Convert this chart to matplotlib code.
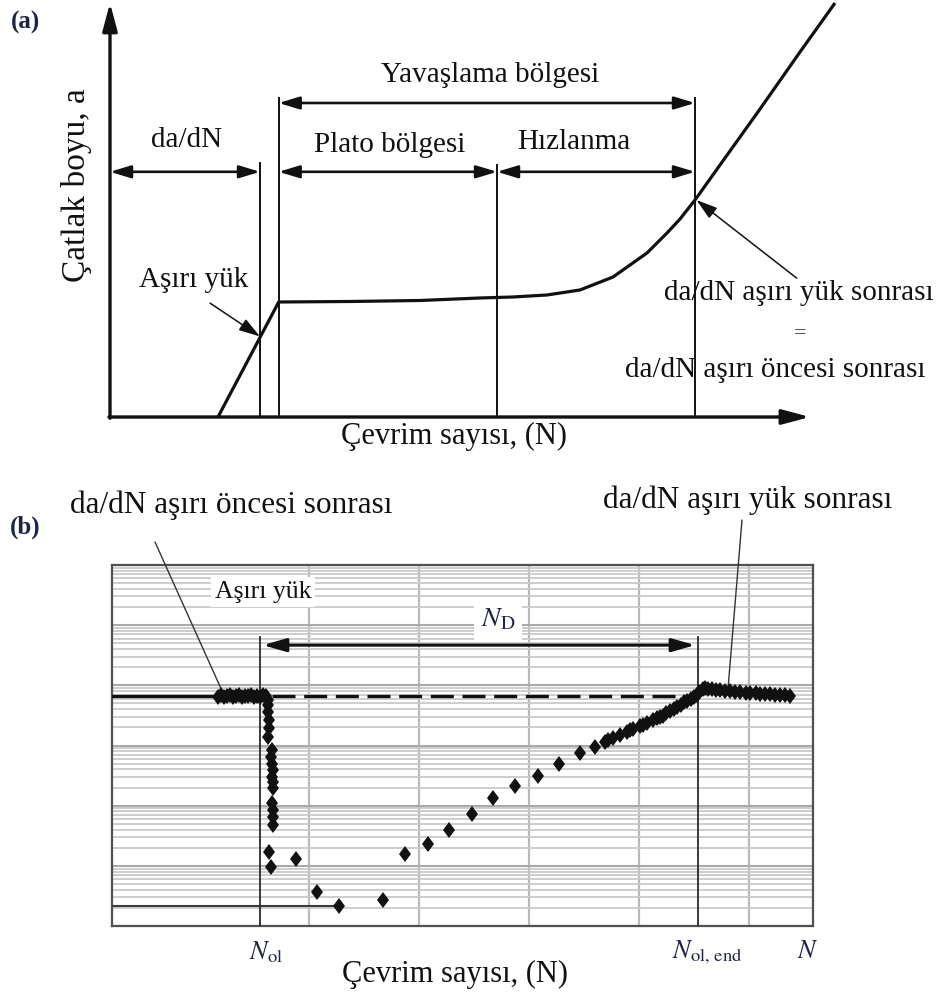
import matplotlib
matplotlib.use("Agg")
import matplotlib.pyplot as plt
from matplotlib.markers import MarkerStyle
from matplotlib.transforms import Affine2D, blended_transform_factory
from matplotlib.ticker import LogLocator, NullFormatter
import numpy as np

plt.rcParams["font.family"] = ["Liberation Serif", "DejaVu Serif"]
plt.rcParams["mathtext.fontset"] = "stix"

# ---------------- (a) schematic crack length vs cycles (normalised 0-100) ----------------
curve_N = [15.43, 24.1, 34.29, 44.29, 52.86, 57.57, 62.43, 67.14, 71.86, 76.71,
           79.57, 81.43, 83.57, 87.14, 92.86, 98.57, 103.57]
curve_a = [0.0, 27.58, 27.70, 27.94, 28.54, 28.78, 29.26, 30.46, 33.57, 39.33,
           44.12, 47.48, 52.04, 60.43, 73.86, 87.53, 99.28]
N_overload = 21.43
a_overload = 19.31
N_plateau_start = 24.1
N_plateau_end = 55.29
N_recovery = 83.57
a_recovery = 52.04
boundary_N = [N_overload, N_plateau_start, N_plateau_end, N_recovery]
boundary_top = [60.9, 76.5, 60.4, 76.5]
row_low, row_high = 58.8, 75.3

# ---------------- (b) da/dN vs cycles (kcycles, m/cycle) ----------------
N_ol = 15.55
N_ol_end = 55.36
dadn_before = 6.6e-7
dadn_min = 2.15e-10

pre_N = [11.73, 12.00, 12.27, 12.55, 12.82, 13.09, 13.36, 13.64, 13.91, 14.18,
         14.45, 14.73, 15.00, 15.27, 15.55, 15.82, 16.09]
pre_y = [6.5e-7, 6.8e-7, 6.4e-7, 6.7e-7, 6.9e-7, 6.5e-7, 6.6e-7, 6.8e-7, 6.4e-7,
         6.7e-7, 6.6e-7, 6.9e-7, 6.5e-7, 6.7e-7, 6.4e-7, 6.8e-7, 6.6e-7]

drop_N = [16.3, 16.3, 16.3, 16.4, 16.4, 16.3, 16.6, 16.5, 16.6, 16.7, 16.6, 16.7,
          16.7, 16.6, 16.7, 16.7, 16.7, 16.4, 16.5, 18.8, 20.7, 22.7, 26.7]
drop_y = [5.7e-7, 4.7e-7, 3.6e-7, 2.65e-7, 1.95e-7, 1.38e-7, 8.4e-8, 6.4e-8, 4.9e-8,
          3.9e-8, 3.0e-8, 2.5e-8, 1.96e-8, 1.11e-8, 8.5e-9, 6.5e-9, 4.8e-9, 1.7e-9,
          9.6e-10, 1.3e-9, 3.7e-10, 2.15e-10, 2.7e-10]

rec_N = [28.7, 30.8, 32.7, 34.8, 36.7, 38.7, 40.8, 42.7, 44.6, 46.0, 46.9, 47.2,
         47.6, 48.3, 48.9, 49.2, 49.5, 50.1, 50.4, 50.7, 51.3, 51.6, 51.9, 52.2,
         52.5, 52.8, 53.2, 53.5, 53.8, 54.1, 54.4, 54.7, 55.0, 55.3]
rec_y = [1.57e-9, 2.31e-9, 3.94e-9, 7.26e-9, 1.34e-8, 2.12e-8, 3.11e-8, 4.92e-8,
         7.5e-8, 9.44e-8, 1.14e-7, 1.22e-7, 1.33e-7, 1.49e-7, 1.68e-7, 1.80e-7,
         1.88e-7, 2.11e-7, 2.2e-7, 2.37e-7, 2.65e-7, 2.9e-7, 2.97e-7, 3.1e-7,
         3.47e-7, 3.8e-7, 4.04e-7, 4.3e-7, 4.71e-7, 5.2e-7, 5.49e-7, 5.9e-7,
         6.39e-7, 7.0e-7]

post_N = [55.5, 55.8, 56.0, 56.3, 56.6, 57.0, 57.4, 57.8, 58.3, 58.7, 59.2, 59.7,
          60.1, 60.6, 61.0, 61.5, 61.9, 62.4, 62.8, 63.3, 63.7]
post_y = [7.7e-7, 8.6e-7, 9.0e-7, 8.8e-7, 8.7e-7, 8.4e-7, 8.4e-7, 8.1e-7, 8.0e-7,
          7.7e-7, 7.8e-7, 7.5e-7, 7.4e-7, 7.6e-7, 7.3e-7, 7.1e-7, 7.3e-7, 7.0e-7,
          6.9e-7, 7.0e-7, 6.7e-7]

N_lim = (2.09, 65.82)
dadn_lim = (1e-10, 1e-4)
N_grid = [20, 30, 40, 50, 60]

W, H = 941, 996
fig = plt.figure(figsize=(W / 100, H / 100), dpi=100)


def fx(px):
    return px / W


def fy(py):
    return 1 - py / H


ink = "#111111"
navy = "#1e2442"
fs = 21

# ======================= panel (a) =======================
ax_a = fig.add_axes([fx(110), fy(417), fx(810) - fx(110), fy(0) - fy(417)])
ax_a.set_xlim(0, 100)
ax_a.set_ylim(0, 100)
ax_a.axis("off")

axis_arrow = dict(arrowstyle="-|>,head_length=1.2,head_width=0.32", mutation_scale=14,
                  lw=2.4, color=ink, shrinkA=0, shrinkB=0)
ax_a.annotate("", xy=(0, 99.3), xytext=(0, -0.3), arrowprops=axis_arrow, annotation_clip=False)
ax_a.annotate("", xy=(100, 0), xytext=(-0.15, 0), arrowprops=axis_arrow, annotation_clip=False)

ax_a.plot(curve_N, curve_a, color=ink, lw=2.3, solid_joinstyle="round",
          solid_capstyle="butt", clip_on=False, zorder=3)

for bn, bt in zip(boundary_N, boundary_top):
    ax_a.plot([bn, bn], [0, bt], color=ink, lw=1.4, clip_on=False)

dbl = dict(arrowstyle="<|-|>,head_length=1.25,head_width=0.38", mutation_scale=10,
           lw=1.9, color=ink, shrinkA=0, shrinkB=0)
ax_a.annotate("", xy=(N_overload, row_low), xytext=(0, row_low), arrowprops=dbl)
ax_a.annotate("", xy=(N_plateau_end, row_low), xytext=(N_plateau_start, row_low), arrowprops=dbl)
ax_a.annotate("", xy=(N_recovery, row_low), xytext=(N_plateau_end, row_low), arrowprops=dbl)
ax_a.annotate("", xy=(N_recovery, row_high), xytext=(N_plateau_start, row_high), arrowprops=dbl)

ax_a.text(54.3, 82.0, "Yavaşlama bölgesi", fontsize=fs, ha="center", va="center", color=ink)
ax_a.text(11.0, 66.4, "da/dN", fontsize=fs, ha="center", va="center", color=ink)
ax_a.text(39.9, 65.2, "Plato bölgesi", fontsize=fs, ha="center", va="center", color=ink)
ax_a.text(66.3, 65.9, "Hızlanma", fontsize=fs, ha="center", va="center", color=ink)
ax_a.text(11.9, 32.9, "Aşırı yük", fontsize=fs, ha="center", va="center", color=ink)
ax_a.text(98.4, 29.7, "da/dN aşırı yük sonrası", fontsize=fs, ha="center", va="center",
          color=ink, clip_on=False)
ax_a.text(98.6, 20.1, "=", fontsize=16, ha="center", va="center", color="#333344")
ax_a.text(95.0, 11.3, "da/dN aşırı öncesi sonrası", fontsize=fs, ha="center", va="center",
          color=ink, clip_on=False)

thin_arrow = dict(arrowstyle="-|>,head_length=1.3,head_width=0.4", mutation_scale=10,
                  lw=1.1, color=ink, shrinkA=0, shrinkB=0)
ax_a.annotate("", xy=(N_overload, a_overload), xytext=(14.3, 27.3), arrowprops=thin_arrow)
ax_a.annotate("", xy=(N_recovery + 0.2, a_recovery), xytext=(98.1, 33.3), arrowprops=thin_arrow)

fig.text(fx(454), fy(436), "Çevrim sayısı, (N)", fontsize=22, ha="center", va="center", color=ink)
fig.text(fx(77), fy(185), "Çatlak boyu, a", fontsize=24, rotation=90, ha="center",
         va="center", color=ink)
fig.text(fx(25), fy(22), "(a)", fontsize=18, fontweight="bold", ha="center", va="center",
         color=navy)

# ======================= panel (b) =======================
ax_b = fig.add_axes([fx(112), fy(926), fx(813) - fx(112), fy(565) - fy(926)])
ax_b.set_yscale("log")
ax_b.set_xlim(*N_lim)
ax_b.set_ylim(*dadn_lim)
ax_b.yaxis.set_major_locator(LogLocator(base=10, numticks=20))
ax_b.yaxis.set_minor_locator(LogLocator(base=10, subs=np.arange(2, 10), numticks=200))
ax_b.yaxis.set_minor_formatter(NullFormatter())
ax_b.set_xticks(N_grid)
ax_b.set_axisbelow(True)
ax_b.grid(which="major", axis="y", color="#a9a9a9", lw=1.5)
ax_b.grid(which="minor", axis="y", color="#c9c9c9", lw=1.3)
ax_b.grid(which="major", axis="x", color="#b9b9b9", lw=1.6)
ax_b.tick_params(which="both", length=0, labelbottom=False, labelleft=False)
for sp in ax_b.spines.values():
    sp.set_color("#505050")
    sp.set_linewidth(1.6)

blend = blended_transform_factory(ax_b.transData, ax_b.transAxes)

# pre-overload level, solid then dashed continuation
ax_b.plot([N_lim[0], pre_N[0]], [dadn_before, dadn_before], color=ink, lw=2.4, zorder=3)
ax_b.plot([drop_N[0] + 0.3, N_ol_end], [dadn_before, dadn_before], color=ink, lw=2.4,
          ls=(0, (6.9, 2.6)), zorder=3)
# minimum growth rate level
ax_b.plot([N_lim[0], drop_N[-2]], [dadn_min, dadn_min], color="#3a3a3a", lw=1.5, zorder=3)

# overload markers
ax_b.plot([N_ol, N_ol], [0, 0.80], transform=blend, color="#2a2a2a", lw=1.3, zorder=3)
ax_b.plot([N_ol_end, N_ol_end], [0, 0.80], transform=blend, color="#2a2a2a", lw=1.3, zorder=3)

mk = MarkerStyle("D", transform=Affine2D().scale(0.82, 1.0))
for xs, ys in [(pre_N, pre_y), (drop_N, drop_y), (rec_N, rec_y), (post_N, post_y)]:
    ax_b.plot(xs, ys, linestyle="none", marker=mk, ms=7.8, color=ink, mew=0, zorder=4)

ax_b.annotate("", xy=(N_ol_end, 0.778), xytext=(N_ol, 0.778), xycoords=blend,
              textcoords=blend,
              arrowprops=dict(arrowstyle="<|-|>,head_length=1.4,head_width=0.4",
                              mutation_scale=10, lw=2.2, color=ink, shrinkA=2, shrinkB=2))

ax_b.text(0.2154, 0.925, "Aşırı yük", transform=ax_b.transAxes, fontsize=18.5, ha="center",
          va="center", color=ink,
          bbox=dict(boxstyle="square,pad=0.15", fc="white", ec="none"), zorder=5)
ax_b.text(0.5506, 0.8476, r"$N_{\mathrm{D}}$", transform=ax_b.transAxes, fontsize=20,
          ha="center", va="center", color=navy,
          bbox=dict(boxstyle="square,pad=0.25", fc="white", ec="none"), zorder=5)

# leader lines from the top captions to the data
lead = dict(arrowstyle="-", lw=1.0, color="#333333", shrinkA=0, shrinkB=0)
ax_b.annotate("", xy=(12.18, 7.45e-7), xytext=(fx(155), fy(542)),
              textcoords="figure fraction", arrowprops=lead, annotation_clip=False)
ax_b.annotate("", xy=(58.09, 8.6e-7), xytext=(fx(742), fy(520)),
              textcoords="figure fraction", arrowprops=lead, annotation_clip=False)

fig.text(fx(231), fy(505), "da/dN aşırı öncesi sonrası", fontsize=22.5, ha="center",
         va="center", color=ink)
fig.text(fx(748), fy(500), "da/dN aşırı yük sonrası", fontsize=22.5, ha="center",
         va="center", color=ink)
fig.text(fx(25), fy(527), "(b)", fontsize=18, fontweight="bold", ha="center", va="center",
         color=navy)

ax_b.annotate(r"$N_{\mathrm{ol}}$", xy=(N_ol, 0), xycoords=blend, xytext=(4, -19),
              textcoords="offset points", ha="center", va="center", fontsize=19, color=navy,
              annotation_clip=False)
ax_b.annotate(r"$N_{\mathrm{ol,\,end}}$", xy=(N_ol_end, 0), xycoords=blend, xytext=(6.5, -19),
              textcoords="offset points", ha="center", va="center", fontsize=19, color=navy,
              annotation_clip=False)
ax_b.text(0.993, -0.072, r"$N$", transform=ax_b.transAxes, ha="center", va="center",
          fontsize=19, color=navy)
fig.text(fx(455), fy(974), "Çevrim sayısı, (N)", fontsize=22, ha="center", va="center",
         color=ink)

fig.savefig("out.png", dpi=100)
